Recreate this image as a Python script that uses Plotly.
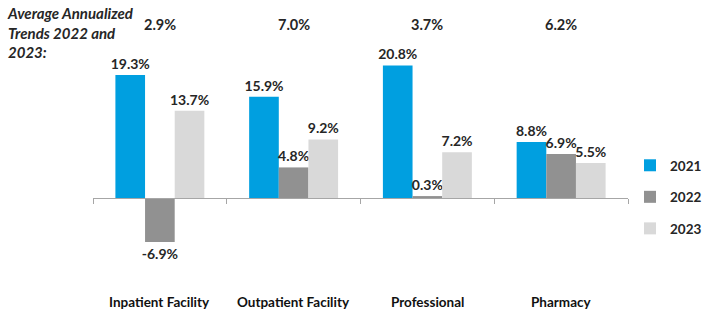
import plotly.graph_objects as go

categories = ["Inpatient Facility", "Outpatient Facility", "Professional", "Pharmacy"]
series_names = ["2021", "2022", "2023"]
values_2021 = [19.3, 15.9, 20.8, 8.8]
values_2022 = [-6.9, 4.8, 0.3, 6.9]
values_2023 = [13.7, 9.2, 7.2, 5.5]
avg_trends = [2.9, 7.0, 3.7, 6.2]
title_text = "Average Annualized<br>Trends 2022 and<br>2023:"

colors = ["#009FE0", "#919191", "#D9D9D9"]
FONT = "Lato"
TXT = "#262626"

W, H = 710, 314
ML, MR, MT, MB = 93, 82, 20, 34
PW, PH = W - ML - MR, H - MT - MB

ymin, ymax = -12.87, 27.94

fig = go.Figure()
for i, (name, vals) in enumerate(zip(series_names, [values_2021, values_2022, values_2023])):
    fig.add_trace(go.Bar(
        x=categories, y=vals, name=name, legendgroup=name,
        marker=dict(color=colors[i], line=dict(width=0)),
        texttemplate="%{y:.1f}%", textposition="outside", constraintext="none",
        textfont=dict(family=FONT, size=14, color=TXT, weight="bold"),
        cliponaxis=False,
    ))

annotations = []
for c, v in zip(categories, avg_trends):
    annotations.append(dict(x=c, y=0.981, xref="x", yref="paper", text=f"{v:.1f}%",
                            showarrow=False, font=dict(family=FONT, size=14.5, color=TXT, weight="bold"),
                            yanchor="middle"))
    annotations.append(dict(x=c, y=-0.0846, xref="x", yref="paper", text=c,
                            showarrow=False, font=dict(family=FONT, size=13.5, color="#111111", weight="bold"),
                            yanchor="middle"))
annotations.append(dict(x=(5 - ML) / PW, y=(H - MB - 2) / PH, xref="paper", yref="paper", text=title_text,
                        showarrow=False, xanchor="left", yanchor="top", align="left",
                        font=dict(family=FONT, size=15, color=TXT, weight="bold", style="italic")))

fig.update_layout(
    width=W, height=H,
    margin=dict(l=ML, r=MR, t=MT, b=MB, autoexpand=False),
    paper_bgcolor="white", plot_bgcolor="white",
    barmode="group", bargap=0.335, bargroupgap=0,
    showlegend=True,
    legend=dict(xref="container", yref="container", x=630 / W, y=(H - 197) / H,
                xanchor="left", yanchor="middle",
                font=dict(family=FONT, size=13.5, color=TXT, weight="bold"),
                tracegroupgap=11, itemwidth=30, bgcolor="rgba(0,0,0,0)"),
    xaxis=dict(anchor="free", position=(0 - ymin) / (ymax - ymin),
               showline=True, linecolor="#A6A6A6", linewidth=1,
               ticks="outside", tickson="boundaries", ticklen=5, tickcolor="#A6A6A6",
               showticklabels=False, showgrid=False, zeroline=False,
               range=[-0.5, 3.5]),
    yaxis=dict(range=[ymin, ymax], visible=False, showgrid=False, zeroline=False),
    annotations=annotations,
)

fig.write_html("out.html", config={"displayModeBar": False},
               post_script="document.body.style.margin='0';")
